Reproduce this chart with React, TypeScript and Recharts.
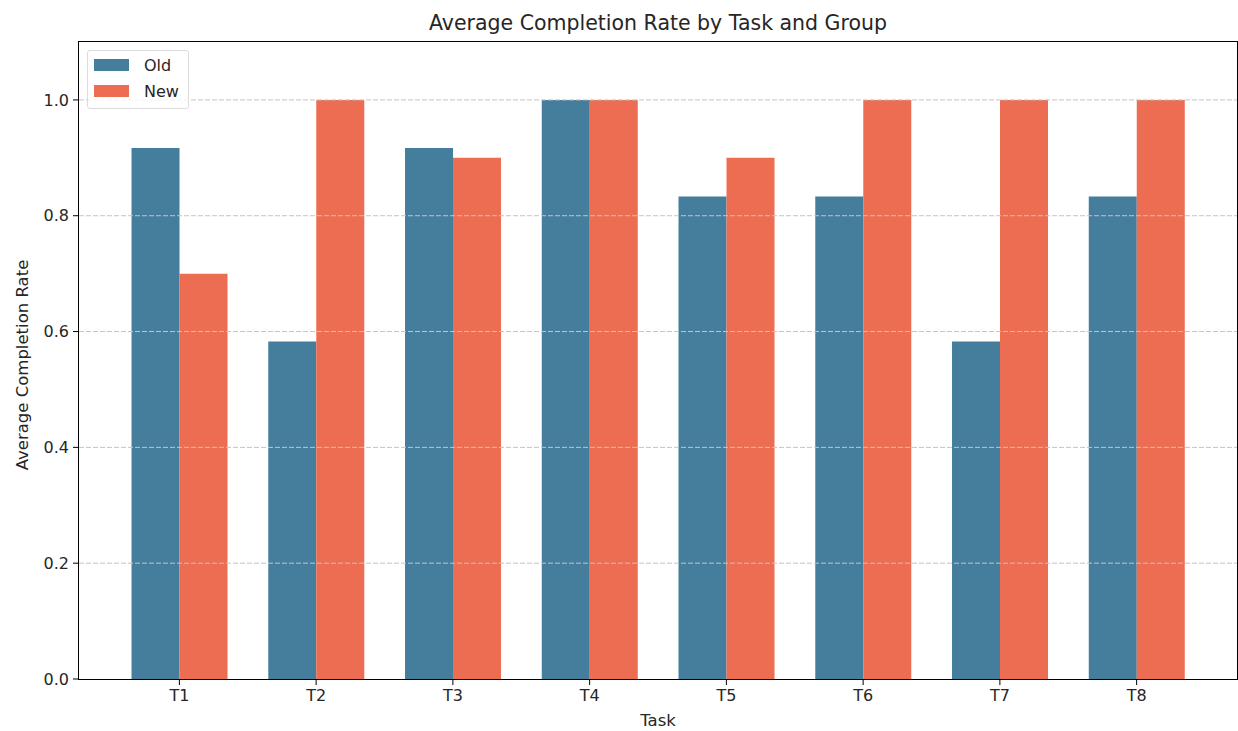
import { BarChart, Bar, XAxis, YAxis, ReferenceLine } from "recharts";

const tasks = ["T1", "T2", "T3", "T4", "T5", "T6", "T7", "T8"];
const oldRates = [0.917, 0.583, 0.917, 1.0, 0.833, 0.833, 0.583, 0.833];
const newRates = [0.7, 1.0, 0.9, 1.0, 0.9, 1.0, 1.0, 1.0];
const yTicks = [0, 0.2, 0.4, 0.6, 0.8, 1.0];

const OLD_COLOR = "#457e9c";
const NEW_COLOR = "#ec6d51";
const FONT = "'DejaVu Sans', sans-serif";
const TEXT = "#262626";

const data = tasks.map((task, i) => ({ task, Old: oldRates[i], New: newRates[i] }));

const PLOT = { left: 79, top: 42, right: 1237, bottom: 679 };

function LegendBox() {
  return (
    <div
      style={{
        position: "absolute",
        left: 87,
        top: 50,
        width: 102,
        height: 59,
        border: "1px solid #dcdcdc",
        borderRadius: 3,
        background: "rgba(255,255,255,0.8)",
        padding: "1px 0 0 6px",
        fontFamily: FONT,
        fontSize: 16,
        color: TEXT,
        boxSizing: "border-box",
      }}
    >
      {[
        { name: "Old", color: OLD_COLOR },
        { name: "New", color: NEW_COLOR },
      ].map((item) => (
        <div key={item.name} style={{ display: "flex", alignItems: "center", height: 26 }}>
          <span style={{ width: 35, height: 12, background: item.color, display: "inline-block", marginRight: 15 }} />
          <span>{item.name}</span>
        </div>
      ))}
    </div>
  );
}

export default function App() {
  return (
    <div style={{ position: "fixed", left: 0, top: 0, width: 1238, height: 731, background: "#fff" }}>
      <BarChart
        width={1238}
        height={731}
        data={data}
        margin={{ top: PLOT.top, right: 1238 - PLOT.right, left: 0, bottom: 0 }}
        barCategoryGap="15%"
        barGap={0}
        style={{ position: "absolute", left: 0, top: 0 }}
      >
        <XAxis
          dataKey="task"
          height={731 - PLOT.bottom}
          padding={{ left: 32, right: 32 }}
          axisLine={false}
          tickLine={{ stroke: "#000" }}
          tickSize={6}
          tick={{ fill: TEXT, fontSize: 16, fontFamily: FONT, dy: 3 }}
          interval={0}
        />
        <YAxis
          type="number"
          domain={[0, 1.1]}
          ticks={yTicks}
          width={PLOT.left}
          axisLine={false}
          tickLine={{ stroke: "#000" }}
          tickSize={6}
          tick={{ fill: TEXT, fontSize: 16, fontFamily: FONT, dx: -2 }}
          tickFormatter={(v: number) => v.toFixed(1)}
        />
        <Bar dataKey="Old" fill={OLD_COLOR} isAnimationActive={false} />
        <Bar dataKey="New" fill={NEW_COLOR} isAnimationActive={false} />
        {yTicks.slice(1).map((t) => (
          <ReferenceLine key={t} y={t} stroke="#c4c4c4" strokeDasharray="5 2" strokeWidth={1} />
        ))}
      </BarChart>
      {/* axes frame */}
      <div
        style={{
          position: "absolute",
          left: PLOT.left - 1,
          top: PLOT.top - 1,
          width: PLOT.right - PLOT.left,
          height: PLOT.bottom - PLOT.top,
          border: "1.2px solid #000",
          pointerEvents: "none",
        }}
      />
      <div
        style={{
          position: "absolute",
          left: PLOT.left,
          width: PLOT.right - PLOT.left,
          top: 11,
          textAlign: "center",
          fontFamily: FONT,
          fontSize: 20.5,
          color: TEXT,
        }}
      >
        Average Completion Rate by Task and Group
      </div>
      <div
        style={{
          position: "absolute",
          left: PLOT.left,
          width: PLOT.right - PLOT.left,
          top: 711,
          textAlign: "center",
          fontFamily: FONT,
          fontSize: 16.5,
          color: TEXT,
        }}
      >
        Task
      </div>
      <div
        style={{
          position: "absolute",
          left: 22,
          top: 365,
          transform: "translate(-50%, -50%) rotate(-90deg)",
          whiteSpace: "nowrap",
          fontFamily: FONT,
          fontSize: 16.5,
          color: TEXT,
        }}
      >
        Average Completion Rate
      </div>
      <LegendBox />
    </div>
  );
}
